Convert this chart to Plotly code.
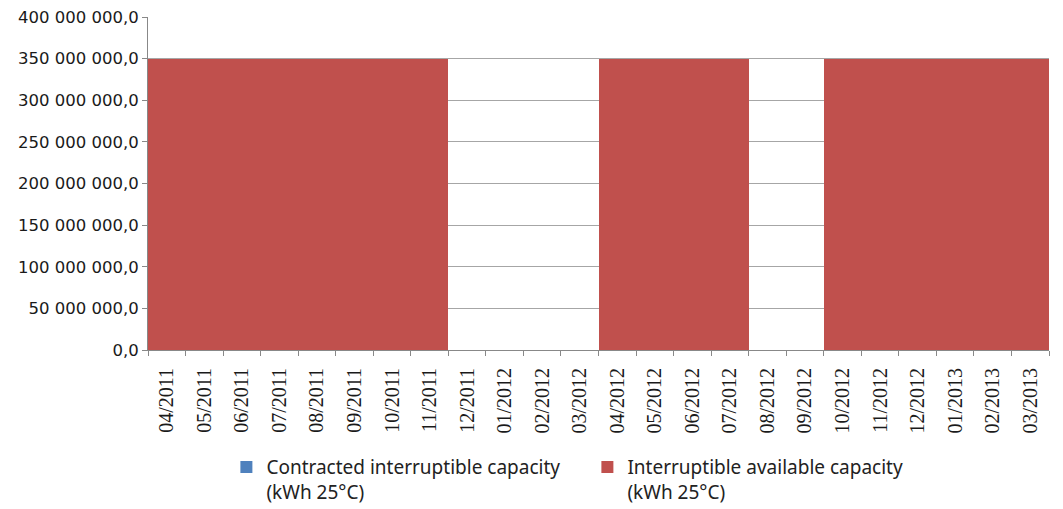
import plotly.graph_objects as go

months = ["04/2011", "05/2011", "06/2011", "07/2011", "08/2011", "09/2011",
          "10/2011", "11/2011", "12/2011", "01/2012", "02/2012", "03/2012",
          "04/2012", "05/2012", "06/2012", "07/2012", "08/2012", "09/2012",
          "10/2012", "11/2012", "12/2012", "01/2013", "02/2013", "03/2013"]

contracted = [0] * 24
available = [350000000] * 8 + [0] * 4 + [350000000] * 4 + [0] * 2 + [350000000] * 6

y_ticks = [0, 50000000, 100000000, 150000000, 200000000, 250000000,
           300000000, 350000000, 400000000]

fig = go.Figure()
fig.add_trace(go.Bar(
    x=months, y=contracted,
    name="Contracted interruptible capacity<br>(kWh 25°C)",
    marker=dict(color="#4F81BD", line=dict(width=0)),
))
fig.add_trace(go.Bar(
    x=months, y=available,
    name="Interruptible available capacity<br>(kWh 25°C)",
    marker=dict(color="#C0504D", line=dict(width=0)),
))

fig.update_layout(
    width=1063, height=509,
    margin=dict(l=148, r=14, t=17, b=159, autoexpand=False),
    barmode="stack", bargap=0,
    separators=", ",
    plot_bgcolor="white", paper_bgcolor="white",
    showlegend=True,
    legend=dict(
        orientation="h", x=0.087, xanchor="left", y=-0.295, yanchor="top",
        valign="top",
        font=dict(family="Noto Sans", size=19, color="#222222"),
        entrywidth=316, traceorder="normal",
        itemclick=False,
    ),
    xaxis=dict(
        type="category", tickangle=-90, tickson="boundaries",
        ticks="outside", ticklen=5, tickcolor="#888888",
        ticklabelstandoff=9, automargin=False,
        showline=True, linecolor="#888888", linewidth=1,
        showgrid=False,
        tickfont=dict(family="Liberation Serif", size=20, color="#1a1a1a"),
    ),
    yaxis=dict(
        range=[0, 400000000], tickvals=y_ticks, tickformat=",.1f",
        ticks="outside", ticklen=5, tickcolor="#888888", automargin=False,
        showline=True, linecolor="#888888", linewidth=1,
        showgrid=True, gridcolor="#A6A6A6", gridwidth=1,
        zeroline=False,
        tickfont=dict(family="DejaVu Sans", size=16.5, color="#1a1a1a"),
    ),
)

fig.write_html("out.html")
